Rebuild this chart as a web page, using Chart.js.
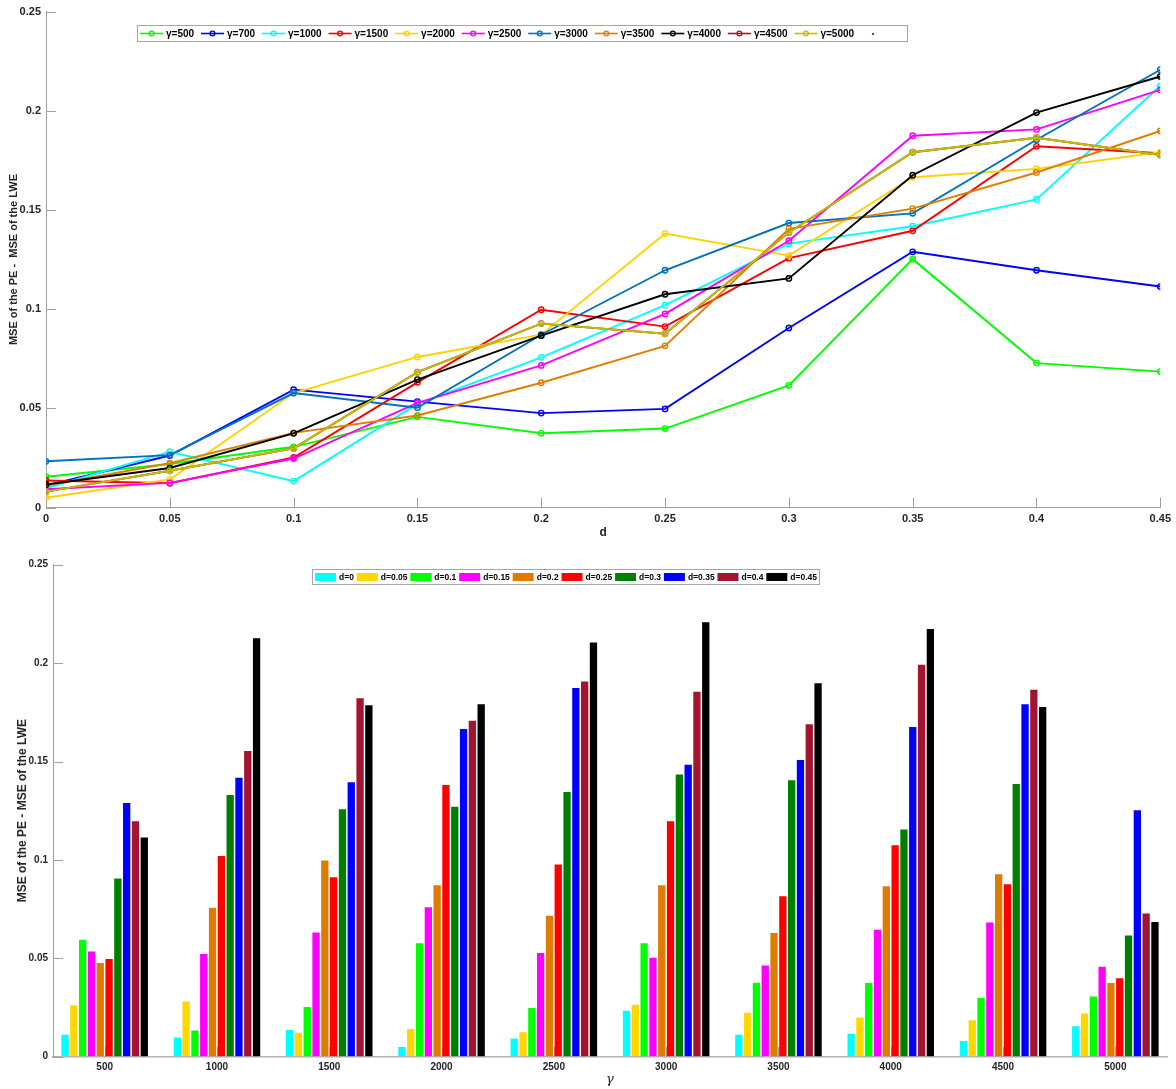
<!DOCTYPE html>
<html>
<head>
<meta charset="utf-8">
<script src="https://cdn.jsdelivr.net/npm/chart.js@4.4.1/dist/chart.umd.min.js"></script>
<style>
  html, body { margin: 0; padding: 0; background: #ffffff; }
  #wrap { position: relative; width: 1176px; height: 1089px; }
  #lineChart { position: absolute; left: 0; top: 0; width: 1176px; height: 545px; }
  #barChart { position: absolute; left: 0; top: 545px; width: 1176px; height: 544px; }
</style>
</head>
<body>
<div id="wrap">
  <canvas id="lineChart" width="1176" height="545"></canvas>
  <canvas id="barChart" width="1176" height="544"></canvas>
</div>
<script>
// ---- data -------------------------------------------------------------
const dValues = [0, 0.05, 0.1, 0.15, 0.2, 0.25, 0.3, 0.35, 0.4, 0.45];
const dTickLabels = ['0', '0.05', '0.1', '0.15', '0.2', '0.25', '0.3', '0.35', '0.4', '0.45'];
const yTickValues = [0, 0.05, 0.1, 0.15, 0.2, 0.25];
const yTickLabels = ['0', '0.05', '0.1', '0.15', '0.2', '0.25'];

const gammaSeriesLabels = ['γ=500', 'γ=700', 'γ=1000', 'γ=1500', 'γ=2000', 'γ=2500',
                           'γ=3000', 'γ=3500', 'γ=4000', 'γ=4500', 'γ=5000'];

// MSE(PE) - MSE(LWE) for each gamma, one value per d
const mse500  = [0.0155, 0.0219, 0.0306, 0.0457, 0.0374, 0.0398, 0.0616, 0.1252, 0.0728, 0.0685];
const mse700  = [0.0111, 0.0262, 0.0594, 0.0534, 0.0476, 0.0497, 0.0905, 0.1289, 0.1196, 0.1114];
const mse1000 = [0.0097, 0.0281, 0.0133, 0.0522, 0.0757, 0.1020, 0.1330, 0.1418, 0.1553, 0.2126];
const mse1500 = [0.0136, 0.0122, 0.0252, 0.0631, 0.0997, 0.0912, 0.1257, 0.1395, 0.1821, 0.1786];
const mse2000 = [0.0049, 0.0141, 0.0577, 0.0759, 0.0871, 0.1381, 0.1270, 0.1665, 0.1707, 0.1791];
const mse2500 = [0.0092, 0.0124, 0.0247, 0.0527, 0.0716, 0.0976, 0.1345, 0.1874, 0.1906, 0.2105];
const mse3000 = [0.0233, 0.0264, 0.0577, 0.0503, 0.0871, 0.1196, 0.1434, 0.1483, 0.1854, 0.2207];
const mse3500 = [0.0111, 0.0223, 0.0376, 0.0464, 0.0629, 0.0815, 0.1405, 0.1507, 0.1689, 0.1898];
const mse4000 = [0.0116, 0.0199, 0.0374, 0.0645, 0.0866, 0.1075, 0.1155, 0.1675, 0.1991, 0.2173];
const mse4500 = [0.0080, 0.0185, 0.0298, 0.0682, 0.0927, 0.0876, 0.1386, 0.1791, 0.1864, 0.1777];
const mse5000 = [0.0080, 0.0185, 0.0298, 0.0682, 0.0927, 0.0876, 0.1386, 0.1791, 0.1864, 0.1777];

const lineSeries = [mse500, mse700, mse1000, mse1500, mse2000, mse2500,
                    mse3000, mse3500, mse4000, mse4500, mse5000];

// grouped bars: one group per gamma tick, one bar per d
const gammaGroups = [500, 1000, 1500, 2000, 2500, 3000, 3500, 4000, 4500, 5000];
const gammaGroupLabels = ['500', '1000', '1500', '2000', '2500', '3000', '3500', '4000', '4500', '5000'];
const groupSources = [mse700, mse1000, mse1500, mse2000, mse2500,
                      mse3000, mse3500, mse4000, mse5000, mse500];
const dSeriesLabels = ['d=0', 'd=0.05', 'd=0.1', 'd=0.15', 'd=0.2',
                       'd=0.25', 'd=0.3', 'd=0.35', 'd=0.4', 'd=0.45'];

// ---- styles -----------------------------------------------------------
const lineColors = ['#00ff00', '#0000ff', '#00ffff', '#ff0000', '#ffd200', '#ff00ff',
                    '#0072bd', '#df7f00', '#000000', '#a2142f', '#bfbf00'];
const barColors = ['#00ffff', '#ffd700', '#00ff00', '#ff00ff', '#df7c00',
                   '#ff0000', '#008000', '#0000ff', '#a2142f', '#000000'];
const FONT = '"Liberation Sans", Arial, Helvetica, sans-serif';
const AXIS_GREY = '#a0a0a0';
const TEXT_DARK = '#262626';

Chart.defaults.font.family = FONT;
Chart.defaults.color = TEXT_DARK;

// short tick marks pointing into the plot, drawn underneath the data
const inwardTicks = {
  id: 'inwardTicks',
  beforeDatasetsDraw(chart, args, opts) {
    const { ctx, chartArea: a, scales } = chart;
    ctx.save();
    ctx.strokeStyle = opts.color;
    ctx.lineWidth = 1;
    ctx.beginPath();
    scales.y.ticks.forEach(t => {
      const py = Math.round(scales.y.getPixelForValue(t.value)) + 0.5;
      ctx.moveTo(a.left, py);
      ctx.lineTo(a.left + opts.length, py);
    });
    scales.x.ticks.forEach(t => {
      const px = Math.round(scales.x.getPixelForValue(t.value)) + 0.5;
      ctx.moveTo(px, a.bottom);
      ctx.lineTo(px, a.bottom - opts.length);
    });
    ctx.stroke();
    ctx.restore();
  }
};

// framed single-row legend sitting inside the plot area
const boxedLegend = {
  id: 'boxedLegend',
  afterDraw(chart, args, o) {
    const ctx = chart.ctx;
    ctx.save();
    ctx.fillStyle = '#ffffff';
    ctx.fillRect(o.left, o.top, o.right - o.left, o.bottom - o.top);
    ctx.strokeStyle = '#a6a6a6';
    ctx.lineWidth = 1;
    ctx.strokeRect(o.left + 0.5, o.top + 0.5, o.right - o.left - 1, o.bottom - o.top - 1);
    ctx.font = o.font;
    const widths = o.items.map(it => o.symbolWidth + o.textGap + (it.label ? ctx.measureText(it.label).width : 0));
    const total = widths.reduce((s, w) => s + w, 0);
    const gap = (o.right - o.left - o.padLeft - o.padRight - total) / (o.items.length - 1);
    const cy = (o.top + o.bottom) / 2;
    let x = o.left + o.padLeft;
    o.items.forEach((it, i) => {
      if (it.style === 'bar') {
        ctx.fillStyle = it.color;
        ctx.fillRect(x, cy - o.swatchHeight / 2, o.symbolWidth, o.swatchHeight);
      } else if (it.style === 'dot') {
        ctx.fillStyle = it.color;
        ctx.fillRect(Math.round(x + o.symbolWidth / 2) - 1, Math.round(cy) - 1, 2, 2);
      } else {
        ctx.strokeStyle = it.color;
        ctx.lineWidth = 1.6;
        ctx.beginPath();
        ctx.moveTo(x, cy);
        ctx.lineTo(x + o.symbolWidth, cy);
        ctx.stroke();
        ctx.lineWidth = 1.3;
        ctx.beginPath();
        ctx.arc(x + o.symbolWidth / 2, cy, 2.4, 0, Math.PI * 2);
        ctx.stroke();
      }
      if (it.label) {
        ctx.fillStyle = '#000000';
        ctx.textBaseline = 'middle';
        ctx.textAlign = 'left';
        ctx.fillText(it.label, x + o.symbolWidth + o.textGap, cy + 0.5);
      }
      x += widths[i] + gap;
    });
    ctx.restore();
  }
};

function yAxis(width, tickFont, titleText, titleFont, titlePad) {
  return {
    type: 'linear', min: 0, max: 0.25,
    afterBuildTicks: s => { s.ticks = yTickValues.map(v => ({ value: v })); },
    afterFit: s => { s.width = width; },
    ticks: { callback: (v, i) => yTickLabels[i], font: tickFont, color: TEXT_DARK, padding: 5 },
    grid: { display: true, drawOnChartArea: false, drawTicks: false },
    border: { display: true, color: AXIS_GREY, width: 1 },
    title: { display: true, text: titleText, font: titleFont, color: TEXT_DARK, padding: { top: titlePad, bottom: 0 } }
  };
}

// ---- top: lines over d ------------------------------------------------
new Chart(document.getElementById('lineChart'), {
  type: 'line',
  data: {
    datasets: lineSeries.map((vals, i) => ({
      label: gammaSeriesLabels[i],
      data: vals.map((v, k) => ({ x: dValues[k], y: v })),
      borderColor: lineColors[i],
      backgroundColor: 'rgba(0,0,0,0)',
      pointBorderColor: lineColors[i],
      pointBackgroundColor: 'rgba(0,0,0,0)',
      borderWidth: 1.9,
      pointRadius: 2.7,
      pointBorderWidth: 1.4,
      pointStyle: 'circle',
      tension: 0,
      order: lineSeries.length - i
    }))
  },
  options: {
    responsive: false,
    animation: false,
    devicePixelRatio: 1,
    layout: { padding: { top: 11.5, right: 15.5, left: 0, bottom: 0 } },
    scales: {
      x: {
        type: 'linear', min: 0, max: 0.45,
        afterBuildTicks: s => { s.ticks = dValues.map(v => ({ value: v })); },
        afterFit: s => { s.height = 37.5; },
        ticks: { callback: (v, i) => dTickLabels[i], font: { size: 11, weight: 'bold' }, color: TEXT_DARK,
                 padding: 5, maxRotation: 0, autoSkip: false },
        grid: { display: true, drawOnChartArea: false, drawTicks: false },
        border: { display: true, color: AXIS_GREY, width: 1 },
        title: { display: true, text: 'd', font: { size: 12, weight: 'bold' }, color: TEXT_DARK,
                 padding: { top: 0, bottom: 5 } }
      },
      y: yAxis(46, { size: 11, weight: 'bold' }, 'MSE of the PE -  MSE of the LWE',
               { size: 11, weight: 'bold' }, 7.4)
    },
    plugins: {
      legend: { display: false },
      tooltip: { enabled: false },
      inwardTicks: { color: AXIS_GREY, length: 10 },
      boxedLegend: {
        left: 137, top: 25, right: 908, bottom: 42,
        padLeft: 3, padRight: 21, symbolWidth: 23, textGap: 3, swatchHeight: 8,
        font: 'bold 10px ' + FONT,
        items: gammaSeriesLabels.map((l, i) => ({ label: l, color: lineColors[i], style: 'line' }))
                 .concat([{ label: '', color: '#3d5c4c', style: 'dot' }])
      }
    }
  },
  plugins: [inwardTicks, boxedLegend]
});

// ---- bottom: grouped bars over gamma ----------------------------------
new Chart(document.getElementById('barChart'), {
  type: 'bar',
  data: {
    datasets: dSeriesLabels.map((l, j) => ({
      label: l,
      data: gammaGroups.map((g, k) => ({ x: g, y: groupSources[k][j] })),
      backgroundColor: barColors[j],
      borderWidth: 0,
      categoryPercentage: 0.784,
      barPercentage: 0.83
    }))
  },
  options: {
    responsive: false,
    animation: false,
    devicePixelRatio: 1,
    layout: { padding: { top: 19.7, right: 9, left: 0, bottom: 0 } },
    scales: {
      x: {
        type: 'linear', min: 270, max: 5230, offset: false,
        afterBuildTicks: s => { s.ticks = gammaGroups.map(v => ({ value: v })); },
        afterFit: s => { s.height = 32.3; },
        ticks: { callback: (v, i) => gammaGroupLabels[i], font: { size: 10, weight: 'bold' }, color: TEXT_DARK,
                 padding: 5, maxRotation: 0, autoSkip: false },
        grid: { display: true, drawOnChartArea: false, drawTicks: false },
        border: { display: true, color: '#b4b4b4', width: 1.5 },
        title: { display: true, text: 'γ', font: { size: 13, style: 'italic', family: '"DejaVu Serif", serif' },
                 color: TEXT_DARK, padding: { top: 0, bottom: 1.5 } }
      },
      y: yAxis(53, { size: 10, weight: 'bold' }, 'MSE of the PE - MSE of the LWE',
               { size: 12, weight: 'bold' }, 15.3)
    },
    plugins: {
      legend: { display: false },
      tooltip: { enabled: false },
      inwardTicks: { color: AXIS_GREY, length: 10 },
      boxedLegend: {
        left: 312, top: 24, right: 820, bottom: 40,
        padLeft: 3, padRight: 3, symbolWidth: 21, textGap: 3, swatchHeight: 8,
        font: 'bold 8.5px ' + FONT,
        items: dSeriesLabels.map((l, j) => ({ label: l, color: barColors[j], style: 'bar' }))
      }
    }
  },
  plugins: [inwardTicks, boxedLegend]
});
</script>
</body>
</html>
